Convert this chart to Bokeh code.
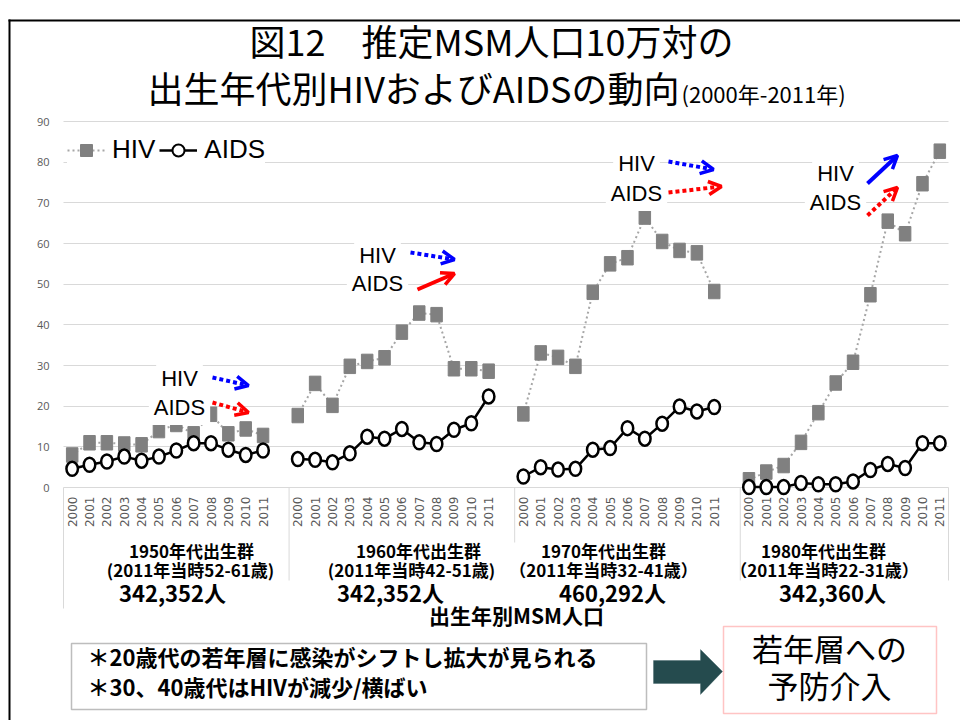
import math
from bokeh.plotting import figure
from bokeh.models import (Range1d, FixedTicker, Label, Legend, LegendItem, Grid,
                          Arrow, OpenHead, BoxAnnotation, PolyAnnotation)
from bokeh.core.properties import value
from bokeh.embed import file_html
from bokeh.resources import INLINE

# ---------------- data ----------------
cohorts = ["1950年代", "1960年代", "1970年代", "1980年代"]
years = ["2000", "2001", "2002", "2003", "2004", "2005",
         "2006", "2007", "2008", "2009", "2010", "2011"]

hiv_1950s = [8.0, 11.0, 11.0, 10.7, 10.5, 14.0, 15.5, 13.2, 18.0, 13.2, 14.4, 12.8]
aids_1950s = [4.6, 5.6, 6.4, 7.6, 6.6, 7.6, 9.1, 10.9, 10.9, 9.3, 8.0, 9.1]
hiv_1960s = [17.7, 25.6, 20.2, 29.8, 31.0, 31.9, 38.2, 42.9, 42.5, 29.2, 29.2, 28.6]
aids_1960s = [7.0, 6.8, 6.2, 8.4, 12.5, 12.0, 14.4, 11.1, 10.7, 14.2, 15.8, 22.4]
hiv_1970s = [18.1, 33.1, 32.0, 29.8, 48.0, 55.0, 56.5, 66.5, 60.5, 58.3, 57.7, 48.2]
aids_1970s = [2.7, 5.0, 4.4, 4.6, 9.3, 9.7, 14.6, 12.0, 15.7, 19.9, 18.7, 19.8]
hiv_1980s = [1.9, 3.8, 5.4, 11.1, 18.4, 25.7, 30.8, 47.4, 65.5, 62.4, 74.7, 82.7]
aids_1980s = [0.1, 0.1, 0.1, 1.1, 0.8, 0.8, 1.5, 4.3, 5.8, 4.8, 10.9, 10.9]

hiv_series = [hiv_1950s, hiv_1960s, hiv_1970s, hiv_1980s]
aids_series = [aids_1950s, aids_1960s, aids_1970s, aids_1980s]

cohort_titles = ["1950年代出生群", "1960年代出生群", "1970年代出生群", "1980年代出生群"]
cohort_ages = ["(2011年当時52-61歳)", "(2011年当時42-51歳)",
               "（2011年当時32-41歳）", "（2011年当時22-31歳）"]
cohort_pops = ["342,352人", "342,352人", "460,292人", "342,360人"]
y_ticks = [0, 10, 20, 30, 40, 50, 60, 70, 80, 90]

title_line1 = "図12　推定MSM人口10万対の"
title_line2 = "出生年代別HIVおよびAIDSの動向"
title_period = "(2000年-2011年)"
x_title = "出生年別MSM人口"
note_lines = ["＊20歳代の若年層に感染がシフトし拡大が見られる",
              "＊30、40歳代はHIVが減少/横ばい"]
action_lines = ["若年層への", "予防介入"]

# ---------------- category slots (one blank slot after each cohort) ----------------
n_slot = len(years) + 1
x_pos = {c: [gi * n_slot + yi + 0.5 for yi in range(len(years))]
         for gi, c in enumerate(cohorts)}
x_end = len(cohorts) * n_slot - 1          # last cohort has no trailing blank

# ---------------- layout helpers (reference pixel -> data) ----------------
PPU = (487 - 121) / 90.0          # pixels per y unit
SLOT = (948 - 63) / float(x_end)  # pixels per category slot


def X(px):
    return (px - 63) / SLOT


def Y(py):
    return (487 - py) / PPU


def YJ(py, size):
    # CJK font sits a little low with "middle" baseline; lift the anchor
    return Y(py - 0.19 * size)


JP = "Noto Sans CJK JP"
LAT = "Liberation Sans"

W, H = 960, 720
p = figure(width=W, height=H, output_backend="svg", toolbar_location=None,
           x_range=Range1d(X(0), X(W)), y_range=Range1d(Y(H), Y(0)),
           x_axis_location=None, y_axis_location="left",
           min_border_left=0, min_border_right=0, min_border_top=0, min_border_bottom=0)
p.outline_line_color = None
p.background_fill_color = "white"
p.border_fill_color = "white"

# y axis (pinned at the left edge of the category area) & grid
p.yaxis.fixed_location = 0
p.yaxis.ticker = FixedTicker(ticks=y_ticks)
p.yaxis.axis_line_color = None
p.yaxis.major_tick_line_color = None
p.yaxis.minor_tick_line_color = None
p.yaxis.major_tick_out = 0
p.yaxis.major_tick_in = 0
p.yaxis.major_label_standoff = 14
p.yaxis.major_label_text_font = "Open Sans"
p.yaxis.major_label_text_font_size = "11px"
p.yaxis.major_label_text_color = "#595959"
p.xgrid.grid_line_color = None
if "cross_bounds" in Grid.properties():
    p.ygrid.ticker = FixedTicker(ticks=y_ticks)
    p.ygrid.cross_bounds = (0, x_end)
    p.ygrid.grid_line_color = "#d9d9d9"
    p.ygrid.grid_line_width = 1
else:
    p.ygrid.grid_line_color = None
    p.segment(x0=[0] * len(y_ticks), y0=y_ticks, x1=[x_end] * len(y_ticks), y1=y_ticks,
              line_color="#d9d9d9", line_width=1, level="underlay")

# slide frame (top and left edges)
p.add_layout(BoxAnnotation(left=X(8), right=X(10), top=Y(19), bottom=Y(730),
                           fill_color="black", fill_alpha=1.0, line_color=None))
p.add_layout(BoxAnnotation(left=X(8), right=X(975), top=Y(19), bottom=Y(21),
                           fill_color="black", fill_alpha=1.0, line_color=None))

# cohort separators below the category axis
bounds = [0] + [(i + 1) * n_slot for i in range(len(cohorts) - 1)] + [x_end]
sep_bottom = [Y(608), Y(580), Y(542), Y(580), Y(580)]
p.segment(x0=bounds, y0=[0] * len(bounds), x1=bounds, y1=sep_bottom,
          line_color="#d9d9d9", line_width=1)

# year labels
all_x = [xv for c in cohorts for xv in x_pos[c]]
all_years = [yv for c in cohorts for yv in years]
p.text(x=all_x, y=[Y(496)] * len(all_x), text=all_years,
       angle=math.pi / 2, text_align="right", text_baseline="middle",
       text_font=value("DejaVu Sans"), text_font_size="12px", text_color="#595959")

# series
hiv_lines, aids_lines = [], []
for c, hv in zip(cohorts, hiv_series):
    hiv_lines.append(p.line(x_pos[c], hv, line_color="#a6a6a6", line_width=2,
                            line_dash="2 3"))
    p.rect(x_pos[c], hv, width=11.5, height=14.5, width_units="screen",
           height_units="screen", fill_color="#808080", line_color="#808080")
for c, av in zip(cohorts, aids_series):
    aids_lines.append(p.line(x_pos[c], av, line_color="black", line_width=2.5))
    p.ellipse(x_pos[c], av, width=11.5, height=14, width_units="screen",
              height_units="screen", fill_color="white", line_color="black",
              line_width=2.5)

# legend key glyphs (no visible data points)
hiv_key = p.scatter([float("nan")], [float("nan")], marker="square", size=12,
                    fill_color="#808080", line_color="#808080")
aids_key = p.scatter([float("nan")], [float("nan")], marker="circle", size=10,
                     fill_color="white", line_color="black", line_width=2)
legend = Legend(items=[LegendItem(label="HIV", renderers=[hiv_lines[0], hiv_key]),
                       LegendItem(label="AIDS", renderers=[aids_lines[0], aids_key])],
                orientation="horizontal", location=(67, H - 165),
                glyph_width=38, glyph_height=30, label_standoff=7, spacing=4,
                padding=2, margin=0, background_fill_color="white",
                background_fill_alpha=1.0, border_line_color=None,
                label_text_font=LAT, label_text_font_size="26px",
                label_text_color="black")
p.add_layout(legend)

# titles
p.add_layout(Label(x=X(491), y=YJ(46, 36), text=title_line1, text_align="center",
                   text_baseline="middle", text_font=JP, text_font_size="36px",
                   text_color="black"))
p.add_layout(Label(x=X(679), y=YJ(93, 36), text=title_line2, text_align="right",
                   text_baseline="middle", text_font=JP, text_font_size="36px",
                   text_color="black"))
p.add_layout(Label(x=X(681), y=YJ(97, 22), text=title_period, text_align="left",
                   text_baseline="middle", text_font=JP, text_font_size="22px",
                   text_color="black"))

# trend annotations
ann = [  # (cx, y_hiv, y_aids)
    (179, 378, 407), (377, 255, 283), (636, 163, 193), (835, 173, 202)]
for cx, yh, ya in ann:
    for txt, yy in (("HIV", yh), ("AIDS", ya)):
        p.add_layout(Label(x=X(cx), y=Y(yy), text=txt, text_align="center",
                           text_baseline="middle", text_font=LAT, text_font_size="22px",
                           text_color="black", background_fill_color="white",
                           background_fill_alpha=1.0, padding=5))

arrows = [  # (x0, y0, x1, y1, color, dash)
    (212, 377, 248, 385, "blue", "4 3"),
    (212, 402, 248, 412, "red", "4 3"),
    (410, 252, 454, 259, "blue", "4 3"),
    (417, 289, 454, 273, "red", "solid"),
    (668, 161, 713, 169, "blue", "4 3"),
    (668, 192, 721, 186, "red", "4 3"),
    (867, 183, 897, 155, "blue", "solid"),
    (867, 215, 897, 187, "red", "4 3"),
]
for x0, y0, x1, y1, col, dash in arrows:
    p.add_layout(Arrow(end=OpenHead(size=13, line_color=col, line_width=3.5),
                       x_start=X(x0), y_start=Y(y0), x_end=X(x1), y_end=Y(y1),
                       line_color=col, line_width=4, line_dash=dash))

# cohort labels under the axis
title_cx = [191, 418, 603, 823]
age_cx = [190, 411, 603, 824]
pop_cx = [172, 390, 612, 832]
for i in range(len(cohorts)):
    p.add_layout(Label(x=X(title_cx[i]), y=YJ(553, 17), text=cohort_titles[i],
                       text_align="center", text_baseline="middle", text_font=JP,
                       text_font_style="bold", text_font_size="17px", text_color="black"))
    p.add_layout(Label(x=X(age_cx[i]), y=YJ(572, 17), text=cohort_ages[i],
                       text_align="center", text_baseline="middle", text_font=JP,
                       text_font_style="bold", text_font_size="17px", text_color="black"))
    p.add_layout(Label(x=X(pop_cx[i]), y=YJ(596, 22), text=cohort_pops[i],
                       text_align="center", text_baseline="middle", text_font=JP,
                       text_font_style="bold", text_font_size="22px", text_color="black"))

p.add_layout(Label(x=X(516), y=YJ(618, 21), text=x_title, text_align="center",
                   text_baseline="middle", text_font=JP, text_font_style="bold",
                   text_font_size="21px", text_color="black"))

# note box
p.add_layout(BoxAnnotation(left=X(71), right=X(646), top=Y(643), bottom=Y(709),
                           fill_color="white", fill_alpha=1.0, line_color="#262626",
                           line_width=1.5))
for txt, yy in zip(note_lines, (660, 690)):
    p.add_layout(Label(x=X(87), y=YJ(yy, 22), text=txt, text_align="left",
                       text_baseline="middle", text_font=JP, text_font_style="bold",
                       text_font_size="22px", text_color="black"))

# block arrow
ax = [653, 700, 700, 722, 700, 700, 653]
ay = [660, 660, 649, 671, 694, 683, 683]
p.add_layout(PolyAnnotation(xs=[X(v) for v in ax], ys=[Y(v) for v in ay],
                            fill_color="#254B4E", fill_alpha=1.0,
                            line_color="#254B4E", line_width=1))

# action box
p.add_layout(BoxAnnotation(left=X(723), right=X(936), top=Y(626), bottom=Y(713),
                           fill_color=None, line_color="#ff3b3b", line_width=1.5))
for txt, yy in zip(action_lines, (653, 690)):
    p.add_layout(Label(x=X(829), y=YJ(yy, 31), text=txt, text_align="center",
                       text_baseline="middle", text_font=JP, text_font_size="31px",
                       text_color="black"))

open("out.html", "w").write(file_html(p, INLINE))
